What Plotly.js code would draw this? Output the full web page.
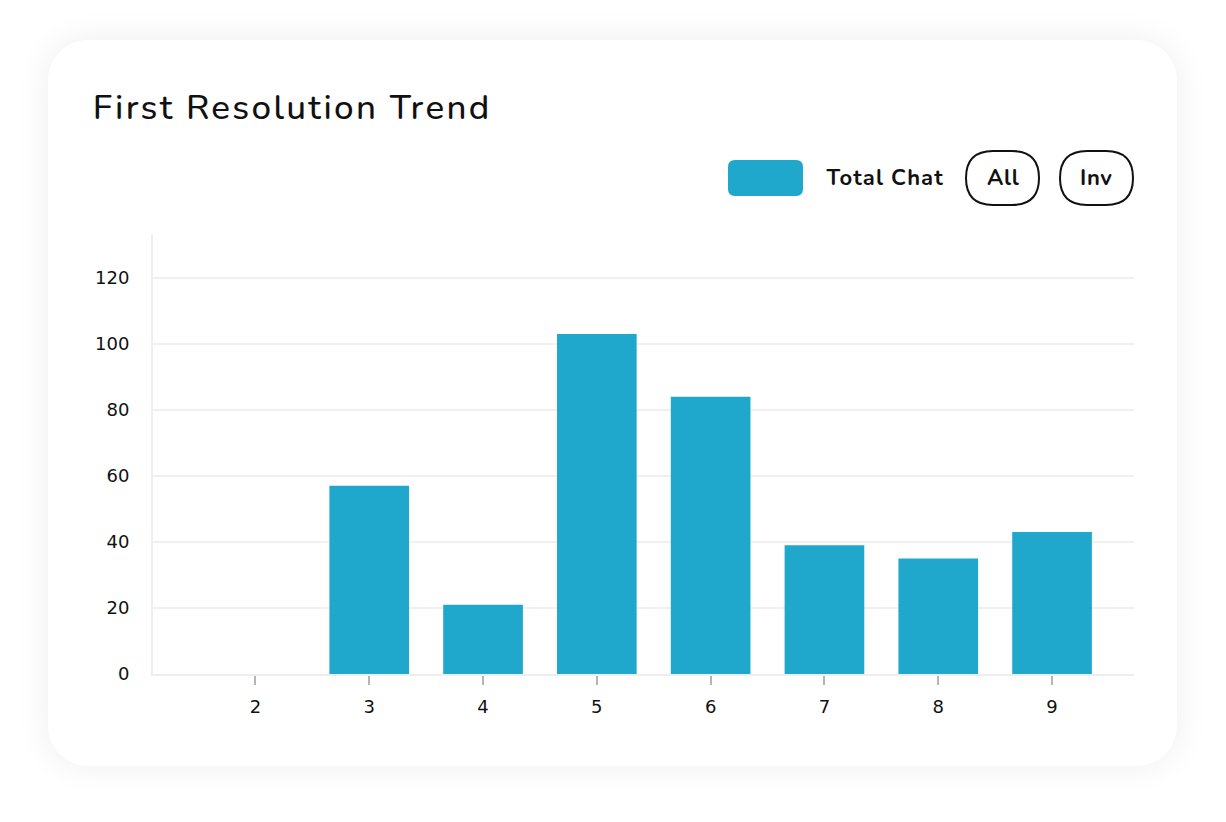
<!DOCTYPE html>
<html>
<head>
<meta charset="utf-8">
<script src="https://cdn.plot.ly/plotly-3.0.1.min.js"></script>
<style>
  html, body { margin: 0; padding: 0; background: #ffffff; }
  #wrap { position: relative; width: 1226px; height: 822px; }
  #card {
    position: absolute; left: 48px; top: 40px; width: 1129px; height: 726px;
    background: #fff; border-radius: 40px;
    box-shadow: 0 0 34px rgba(0, 0, 0, 0.07);
  }
  #chart { position: absolute; left: 0; top: 0; width: 1226px; height: 822px; }
  /* the card title and legend text are a bit spaced out */
  #chart .annotation text { letter-spacing: 0.6px; }
  #chart .annotation[data-index="0"] text { letter-spacing: 2.3px; }
  #chart .annotation[data-index="1"] text { letter-spacing: 1.1px; }
</style>
</head>
<body>
<div id="wrap">
  <div id="card"></div>
  <div id="chart"></div>
</div>
<script>
// data
const days = [2, 3, 4, 5, 6, 7, 8, 9];
const totalChat = [0, 57, 21, 103, 84, 39, 35, 43];
const yTicks = [0, 20, 40, 60, 80, 100, 120];
const chartTitle = 'First Resolution Trend';
const seriesName = 'Total Chat';
const buttons = ['All', 'Inv'];

const barColor = '#20a8cc';
const W = 1226, H = 822;
const M = { l: 153, r: 92, t: 235, b: 148 };
const plotW = W - M.l - M.r, plotH = H - M.t - M.b;

// pixel -> paper coords
const px = x => (x - M.l) / plotW;
const py = y => (H - M.b - y) / plotH;

function roundRect(x0, y0, x1, y1, r) {
  const p = (x, y) => px(x) + ',' + py(y);
  return 'M' + p(x0 + r, y0) + ' L' + p(x1 - r, y0) +
    ' Q' + p(x1, y0) + ' ' + p(x1, y0 + r) +
    ' L' + p(x1, y1 - r) +
    ' Q' + p(x1, y1) + ' ' + p(x1 - r, y1) +
    ' L' + p(x0 + r, y1) +
    ' Q' + p(x0, y1) + ' ' + p(x0, y1 - r) +
    ' L' + p(x0, y0 + r) +
    ' Q' + p(x0, y0) + ' ' + p(x0 + r, y0) + ' Z';
}

const trace = {
  x: days,
  y: totalChat,
  type: 'bar',
  name: seriesName,
  width: 0.7,
  marker: { color: barColor, line: { width: 0 } },
  hoverinfo: 'x+y',
  showlegend: false,
};

const uiFont = 'Nunito, Lato, "Noto Sans", sans-serif';

const shapes = [
  { type: 'path', xref: 'paper', yref: 'paper', path: roundRect(728, 160, 803, 196, 7),
    fillcolor: barColor, line: { width: 0 } },
];
const btnBoxes = [[966, 1039], [1060, 1133]];
btnBoxes.forEach(b => {
  shapes.push({ type: 'path', xref: 'paper', yref: 'paper', path: roundRect(b[0], 151, b[1], 205, 27),
    fillcolor: 'rgba(0,0,0,0)', line: { color: '#111', width: 2 } });
});

// text is centred so the letter spacing grows evenly on both sides
const annotations = [
  { text: chartTitle, xref: 'paper', yref: 'paper', x: px(292), y: py(107),
    xanchor: 'center', yanchor: 'middle', showarrow: false,
    font: { family: uiFont, size: 35, weight: 500, color: '#111' } },
  { text: '<b>' + seriesName + '</b>', xref: 'paper', yref: 'paper', x: px(885), y: py(178),
    xanchor: 'center', yanchor: 'middle', showarrow: false,
    font: { family: uiFont, size: 22, color: '#111' } },
];
buttons.forEach((t, i) => {
  annotations.push({ text: '<b>' + t + '</b>', xref: 'paper', yref: 'paper',
    x: px((btnBoxes[i][0] + btnBoxes[i][1]) / 2), y: py(178),
    xanchor: 'center', yanchor: 'middle', showarrow: false,
    font: { family: uiFont, size: 22, color: '#111' } });
});

const layout = {
  width: W, height: H,
  margin: M,
  paper_bgcolor: 'rgba(0,0,0,0)',
  plot_bgcolor: 'rgba(0,0,0,0)',
  font: { family: '"DejaVu Sans", sans-serif', size: 18, color: '#111' },
  xaxis: {
    range: [1.1, 9.72],
    tickvals: days,
    showgrid: false,
    zeroline: false,
    showline: true, linecolor: '#eeeeee', linewidth: 2,
    ticks: 'outside', ticklen: 9, tickwidth: 2, tickcolor: '#b5b5b5',
    ticklabelstandoff: 6,
  },
  yaxis: {
    range: [0, 133],
    tickvals: yTicks,
    showgrid: true, gridcolor: '#f0f0f0', gridwidth: 2,
    zeroline: false,
    showline: true, linecolor: '#eeeeee', linewidth: 2,
    ticks: '',
    ticklabelstandoff: 18,
  },
  shapes: shapes,
  annotations: annotations,
  bargap: 0.3,
};

Plotly.newPlot('chart', [trace], layout, { displayModeBar: false });
</script>
</body>
</html>
